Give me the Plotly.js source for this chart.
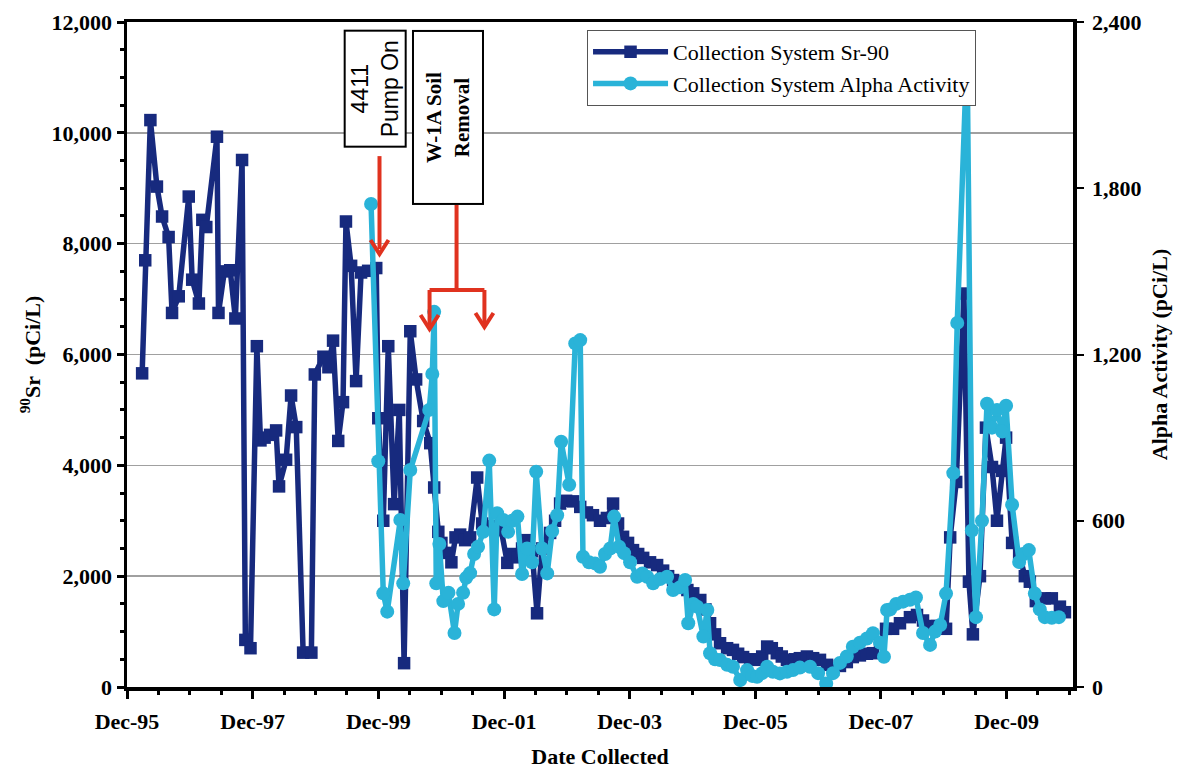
<!DOCTYPE html>
<html>
<head>
<meta charset="utf-8">
<script src="https://cdn.plot.ly/plotly-3.0.1.min.js"></script>
<style>
  html, body { margin: 0; padding: 0; background: #ffffff; }
  #chart { width: 1178px; height: 769px; }
</style>
</head>
<body>
<div id="chart"></div>
<script>
// Collection system monitoring: Sr-90 (left axis) and gross alpha (right axis)

const srDates = [
  "1996-02-27","1996-03-16","1996-04-15","1996-05-23","1996-06-22","1996-07-30","1996-08-19","1996-09-27",
  "1996-11-24","1996-12-14","1997-01-22","1997-02-11","1997-03-06","1997-05-07","1997-05-16","1997-06-19",
  "1997-07-23","1997-08-22","1997-09-30","1997-10-19","1997-11-18","1997-12-25","1998-01-15","1998-02-08",
  "1998-03-12","1998-04-16","1998-05-03","1998-06-13","1998-07-12","1998-08-11","1998-09-20","1998-11-07",
  "1998-11-27","1999-01-16","1999-02-14","1999-03-13","1999-04-12","1999-05-10","1999-05-27","1999-06-26",
  "1999-07-25","1999-08-23","1999-10-03","1999-11-19","1999-12-01","1999-12-30","2000-01-28","2000-03-02",
  "2000-04-01","2000-04-29","2000-06-04","2000-07-08","2000-08-18","2000-09-28","2000-10-21","2000-11-14",
  "2000-12-02","2000-12-30","2001-01-29","2001-02-22","2001-03-21","2001-04-19","2001-05-18","2001-06-28",
  "2001-07-27","2001-09-06","2001-10-17","2001-11-15","2001-12-20","2002-01-18","2002-02-17","2002-03-16",
  "2002-04-14","2002-05-13","2002-06-11","2002-07-10","2002-08-26","2002-09-24","2002-10-23","2002-11-27",
  "2003-01-07","2003-02-17","2003-03-28","2003-05-02","2003-06-12","2003-07-22","2003-08-27","2003-09-25",
  "2003-10-24","2003-11-22","2003-12-21","2004-01-20","2004-02-18","2004-03-29","2004-05-09","2004-06-13",
  "2004-07-12","2004-08-10","2004-09-20","2004-11-01","2004-12-05","2005-01-15","2005-02-14","2005-03-13",
  "2005-04-11","2005-05-10","2005-06-20","2005-07-24","2005-08-23","2005-09-21","2005-11-01","2005-12-11",
  "2006-01-10","2006-02-08","2006-03-07","2006-04-05","2006-05-04","2006-06-03","2006-07-19","2006-08-17",
  "2006-09-27","2006-11-02","2006-12-12","2007-01-22","2007-02-26","2007-04-07","2007-05-17","2007-06-21",
  "2007-08-01","2007-09-11","2007-10-16","2007-11-26","2007-12-31","2008-02-10","2008-03-21","2008-05-18",
  "2008-06-28","2008-08-02","2008-09-12","2008-10-22","2008-12-14","2009-01-07","2009-02-11","2009-03-28",
  "2009-04-26","2009-05-19","2009-06-29","2009-08-03","2009-09-07","2009-10-06","2009-11-05","2009-11-28",
  "2010-01-02","2010-02-12","2010-03-17","2010-04-15","2010-05-20","2010-07-11","2010-08-21","2010-10-07",
  "2010-11-05"
];
const srValues = [
  5660, 7700, 10230, 9030, 8490, 8120, 6750, 7050,
  8850, 7350, 6920, 8430, 8300, 9930, 6750, 7500,
  7520, 6650, 9510, 850, 700, 6150, 4450, 4500,
  4550, 4630, 3620, 4100, 5260, 4690, 620, 620,
  5640, 5960, 5770, 6250, 4440, 5140, 8400, 7600,
  5520, 7480, 7510, 7560, 4850, 3000, 6150, 3300,
  5000, 430, 6420, 5550, 4800, 4400, 3600, 2800,
  2600, 2420, 2250, 2700, 2750, 2650, 2700, 3780,
  2950, 2900, 2860, 2830, 2240, 2400, 2340, 2500,
  2650, 2450, 1330, 2500, 2780, 3000, 3310, 3360,
  3350, 3250, 3150, 3100, 3000, 3050, 3310, 2950,
  2710, 2600, 2470, 2400, 2330, 2250, 2200, 2100,
  2000, 1930, 1850, 1750, 1690, 1570, 1400, 1150,
  950, 790, 700, 670, 600, 540, 500, 490,
  550, 730, 700, 610, 550, 490, 500, 520,
  550, 520, 490, 400, 310, 380, 450, 540,
  570, 600, 610, 800, 1050, 1050, 1150, 1260,
  1300, 1200, 1100, 1100, 1050, 2700, 3700, 7100,
  1900, 950, 2000, 4680, 3970, 3000, 3900, 4500,
  2600, 2400, 2000, 1900, 1550, 1600, 1600, 1450,
  1350
];

const alphaDates = [
  "1999-10-20","1999-12-01","1999-12-30","2000-01-22","2000-04-07","2000-04-24","2000-06-04","2000-09-22",
  "2000-10-10","2000-10-21","2000-11-02","2000-11-20","2000-12-13","2001-01-12","2001-02-16","2001-03-09",
  "2001-04-07","2001-04-25","2001-05-18","2001-06-10","2001-07-03","2001-08-02","2001-09-06","2001-10-05",
  "2001-10-22","2001-11-27","2001-12-25","2002-01-18","2002-02-17","2002-03-16","2002-04-14","2002-05-13",
  "2002-06-06","2002-07-10","2002-08-09","2002-09-07","2002-10-06","2002-10-29","2002-12-15","2003-01-19",
  "2003-02-17","2003-03-05","2003-04-09","2003-05-14","2003-06-12","2003-07-11","2003-08-10","2003-09-02",
  "2003-10-01","2003-10-30","2003-12-04","2004-01-14","2004-02-13","2004-03-12","2004-04-16","2004-05-26",
  "2004-07-06","2004-08-10","2004-09-20","2004-10-19","2004-11-06","2004-12-05","2004-12-28","2005-02-02",
  "2005-02-25","2005-03-13","2005-04-11","2005-05-10","2005-06-20","2005-07-24","2005-09-04","2005-10-14",
  "2005-11-13","2005-12-11","2006-01-10","2006-02-08","2006-03-13","2006-04-23","2006-06-03","2006-07-08",
  "2006-08-17","2006-10-15","2006-12-01","2007-01-17","2007-02-26","2007-04-07","2007-05-17","2007-06-21",
  "2007-08-01","2007-09-11","2007-10-16","2007-11-26","2007-12-19","2008-01-06","2008-01-24","2008-02-28",
  "2008-04-08","2008-05-18","2008-06-22","2008-08-02","2008-09-12","2008-10-11","2008-11-10","2008-12-14",
  "2009-01-25","2009-02-17","2009-04-15","2009-05-13","2009-06-06","2009-07-11","2009-08-09","2009-09-07",
  "2009-10-06","2009-11-05","2009-11-28","2010-01-02","2010-02-12","2010-03-11","2010-04-09","2010-05-14",
  "2010-06-12","2010-07-11","2010-08-21","2010-10-01"
];
const alphaValues = [
  1743, 815, 338, 272, 603, 374, 783, 1000,
  1130, 1354, 374, 516, 310, 340, 195, 300,
  340, 394, 411, 480, 506, 560, 817, 280,
  627, 603, 560, 600, 615, 408, 500, 450,
  777, 500, 410, 563, 620, 885, 730, 1240,
  1252, 470, 450, 446, 434, 480, 500, 615,
  506, 483, 450, 398, 410, 398, 374, 390,
  398, 350, 360, 386, 230, 300, 290, 182,
  278, 122, 100, 97, 80, 73, 25, 61,
  40, 37, 50, 73, 55, 49, 55, 61,
  70, 73, 50, 13, 50, 87, 110, 145,
  160, 175, 194, 160, 109, 278, 280, 300,
  308, 315, 323, 195, 152, 200, 224, 337,
  772, 1314, 2300, 565, 252, 600, 1022, 936,
  1000, 922, 1015, 658, 451, 480, 494, 337,
  280, 252, 250, 252
];

const seriesNames = ["Collection System Sr-90", "Collection System Alpha Activity"];
const srTicks = [0, 2000, 4000, 6000, 8000, 10000, 12000];
const alphaTicks = [0, 600, 1200, 1800, 2400];

const NAVY = "#172a7e";
const CYAN = "#2ab3d8";
const RED = "#e0321f";
const SERIF = "Liberation Serif, Times New Roman, serif";
const SANS = "Liberation Sans, Arial, sans-serif";

const traces = [
  {
    x: srDates, y: srValues, name: seriesNames[0], type: "scatter", mode: "lines+markers",
    yaxis: "y",
    line: { color: NAVY, width: 5.5 },
    marker: { symbol: "square", size: 12.5, color: NAVY }
  },
  {
    x: alphaDates, y: alphaValues, name: seriesNames[1], type: "scatter", mode: "lines+markers",
    yaxis: "y2",
    line: { color: CYAN, width: 5.5 },
    marker: { symbol: "circle", size: 14, color: CYAN }
  }
];

const tickFont = { family: SERIF, size: 22, color: "#000", weight: "bold" };
const titleFont = { family: SERIF, size: 22, color: "#000", weight: "bold" };

// red event markers: a shaft in data units plus a chevron head in pixels at the tip
function chevron(xDate, yVal) {
  return {
    type: "path", xref: "x", yref: "y",
    xsizemode: "pixel", ysizemode: "pixel", xanchor: xDate, yanchor: yVal,
    path: "M-9,15 L0,1 L9,15",
    line: { color: RED, width: 4 }
  };
}
function redLine(x0, x1, y0, y1) {
  return { type: "line", xref: "x", yref: "y", x0: x0, x1: x1, y0: y0, y1: y1,
           line: { color: RED, width: 4 } };
}

const layout = {
  width: 1178, height: 769,
  margin: { l: 127, r: 105, t: 22, b: 82 },
  paper_bgcolor: "#ffffff",
  plot_bgcolor: "#ffffff",
  showlegend: true,
  legend: {
    x: 0.4863, y: 0.988, xanchor: "left", yanchor: "top",
    bgcolor: "#ffffff", bordercolor: "#555", borderwidth: 1,
    font: { family: SERIF, size: 22, color: "#000" },
    itemwidth: 75,
    tracegroupgap: 0
  },
  xaxis: {
    type: "date",
    range: ["1995-12-01", "2010-12-22"],
    tick0: "1995-12-01", dtick: "M24", tickformat: "%b-%y",
    ticks: "outside", ticklen: 8, tickwidth: 3, tickcolor: "#000",
    ticklabelstandoff: 4,
    showline: true, linewidth: 3.5, linecolor: "#000", mirror: true,
    showgrid: false, zeroline: false,
    tickfont: tickFont,
    minor: { tick0: "1995-12-01", dtick: "M6", ticks: "outside", ticklen: 4, tickwidth: 3, tickcolor: "#000", showgrid: false },
    title: { text: "Date Collected", font: titleFont, standoff: 22 }
  },
  yaxis: {
    range: [0, 12000], tickvals: srTicks, tickformat: ",d",
    ticks: "outside", ticklen: 7, tickwidth: 3, tickcolor: "#000",
    showline: true, linewidth: 3.5, linecolor: "#000", mirror: true,
    showgrid: true, gridcolor: "#a0a0a0", gridwidth: 1.5,
    zeroline: false,
    tickfont: tickFont,
    minor: { dtick: 500, ticks: "outside", ticklen: 4, tickwidth: 3, tickcolor: "#000", showgrid: false },
    title: { text: "<sup>90</sup>Sr  (pCi/L)", font: titleFont, standoff: 6 }
  },
  yaxis2: {
    overlaying: "y", side: "right",
    range: [0, 2400], tickvals: alphaTicks, tickformat: ",d",
    ticks: "outside", ticklen: 7, tickwidth: 2, tickcolor: "#000",
    ticklabelstandoff: 4,
    showline: true, linewidth: 3.5, linecolor: "#000",
    showgrid: false, zeroline: false,
    tickfont: tickFont,
    title: { text: "Alpha Activity (pCi/L)", font: titleFont, standoff: 12 }
  },
  shapes: [
    // pump start
    redLine("1999-12-08", "1999-12-08", 9580, 7900),
    chevron("1999-12-08", 7795),
    // soil removal bracket
    redLine("2001-02-28", "2001-02-28", 8700, 7164),
    redLine("2000-09-24", "2001-08-09", 7164, 7164),
    redLine("2000-09-24", "2000-09-24", 7164, 6520),
    chevron("2000-09-24", 6442),
    redLine("2001-08-09", "2001-08-09", 7164, 6550),
    chevron("2001-08-09", 6478)
  ],
  annotations: [
    {
      xref: "x", yref: "y", x: "1999-11-10", y: 10791,
      text: "4411<br>Pump On", textangle: -90, showarrow: false,
      font: { family: SANS, size: 23, color: "#000" },
      bgcolor: "#ffffff", bordercolor: "#000", borderwidth: 2, borderpad: 1,
      width: 112, height: 57
    },
    {
      xref: "x", yref: "y", x: "2001-01-12", y: 10277,
      text: "W-1A Soil<br>Removal", textangle: -90, showarrow: false,
      font: { family: SERIF, size: 21, color: "#000", weight: "bold" },
      bgcolor: "#ffffff", bordercolor: "#000", borderwidth: 2, borderpad: 1,
      width: 169, height: 66
    }
  ]
};

Plotly.newPlot("chart", traces, layout, { displayModeBar: false, staticPlot: true });
</script>
</body>
</html>
